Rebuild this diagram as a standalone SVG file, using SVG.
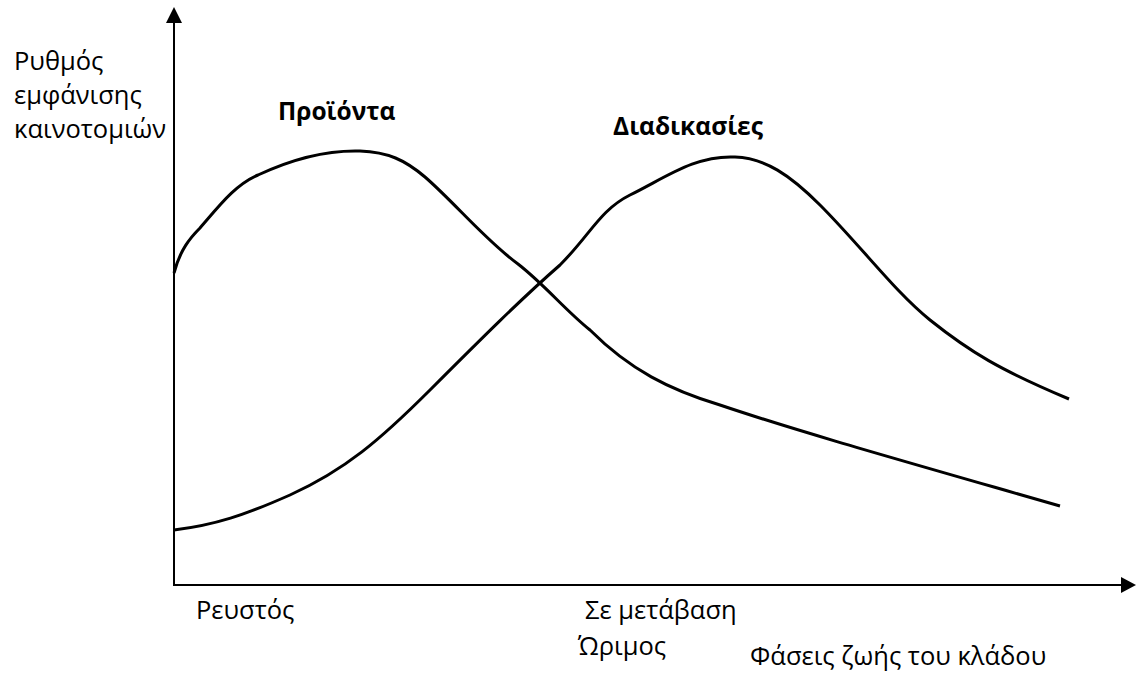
<svg xmlns="http://www.w3.org/2000/svg" width="1136" height="675" viewBox="0 0 1136 675">
<defs>
<style>
.t{font-family:"Open Sans","Noto Sans",sans-serif;font-size:25.5px;fill:#000}
.b{font-weight:bold;font-size:24.5px}
.ax{stroke:#000;stroke-width:2;fill:none}
.cv{stroke:#000;stroke-width:3;fill:none;stroke-linecap:butt;stroke-linejoin:round}
</style>
</defs>
<rect width="1136" height="675" fill="#fff"/>
<g id="axes">
<line class="ax" x1="174" y1="586" x2="174" y2="20"/>
<polygon points="174,7 166,23 182,23" fill="#000"/>
<line class="ax" x1="173" y1="585" x2="1124" y2="585"/>
<polygon points="1136,585 1121,577 1121,593" fill="#000"/>
</g>
<g id="connectors">
<path id="products" class="cv" d="M174,273 C180,250 190,238 200,228 C220,205 235,185 258,175 C290,160 325,150 360,151 C388,152 405,160 425,177 C455,203 485,240 518,264 C545,285 565,310 590,330 C630,370 670,390 720,405 C800,432 900,460 1060,506"/>
<path id="processes" class="cv" d="M174,530 C215,525 245,515 290,495 C345,470 380,440 430,390 C480,340 520,300 560,265 C590,235 600,210 630,195 C665,178 695,155 735,157 C765,158 790,175 820,205 C860,245 895,292 930,320 C970,352 1000,370 1069,399"/>
</g>
<g id="y-label">
<text class="t" x="14" y="70">Ρυθμός</text>
<text class="t" x="14" y="104">εμφάνισης</text>
<text class="t" x="14" y="138">καινοτομιών</text>
</g>
<g id="label-products"><text class="t b" x="278" y="120">Προϊόντα</text></g>
<g id="label-processes"><text class="t b" x="613" y="135">Διαδικασίες</text></g>
<g id="stage-fluid"><text class="t" x="196" y="619">Ρευστός</text></g>
<g id="stage-transition"><text class="t" x="585" y="619">Σε μετάβαση</text></g>
<g id="stage-mature"><text class="t" x="578" y="655">Ώριμος</text></g>
<g id="x-label"><text class="t" x="750" y="665">Φάσεις ζωής του κλάδου</text></g>
</svg>
